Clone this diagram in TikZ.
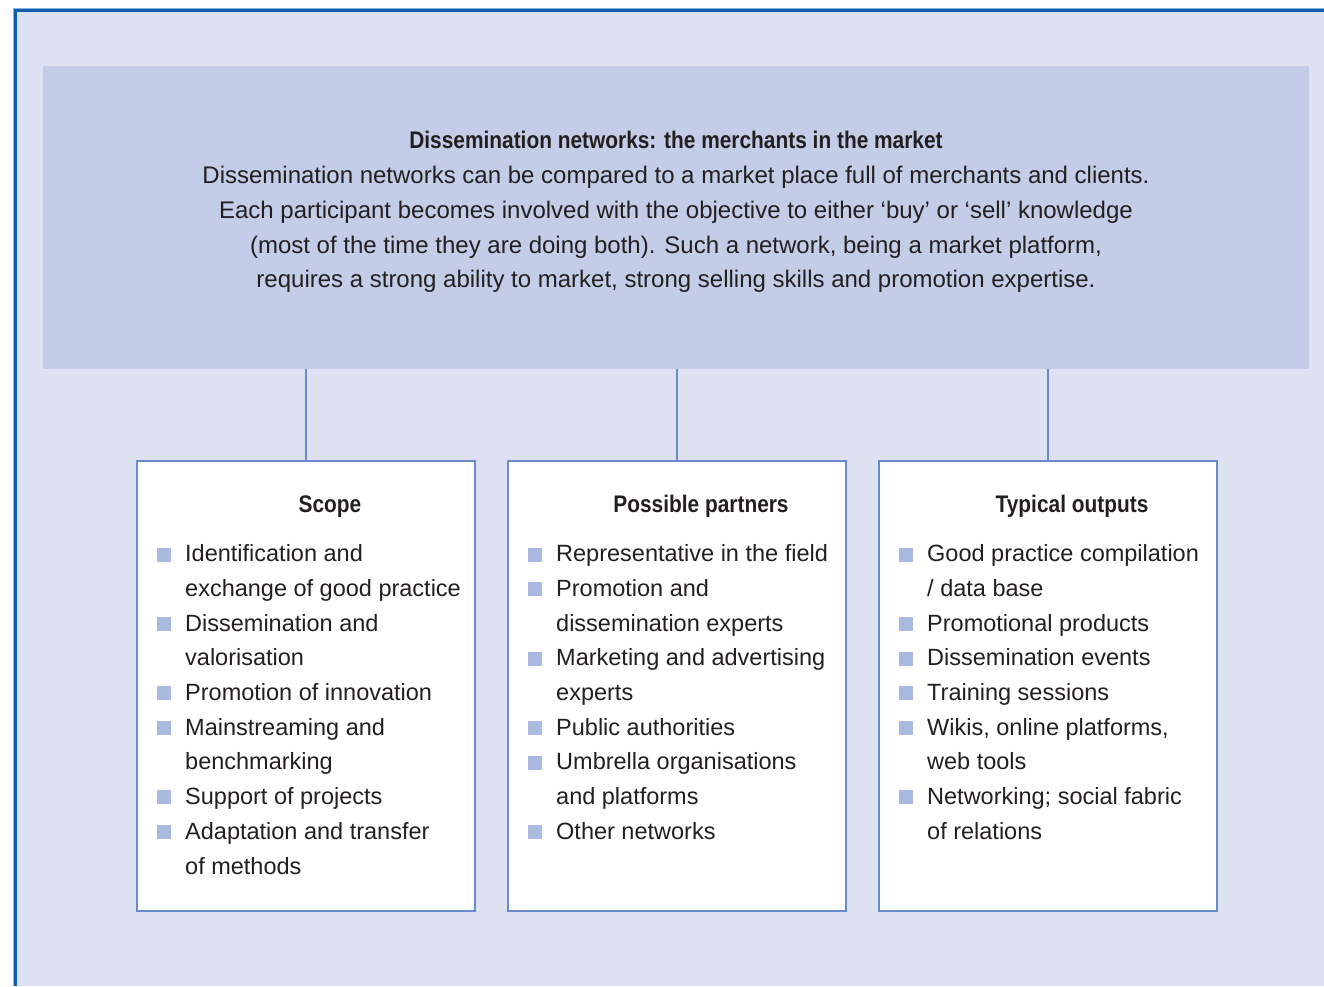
\documentclass[tikz,border=0pt]{standalone}
\usepackage{fontspec}
\setmainfont{Liberation Sans}
\newfontfamily\condb{Liberation Sans}[FakeStretch=0.87]
\definecolor{outerbg}{HTML}{DDE1F1}
\definecolor{hdrbg}{HTML}{C3CDE8}
\definecolor{framec}{HTML}{0F5FB0}
\definecolor{framelt}{HTML}{8CB2DE}
\definecolor{boxc}{HTML}{6A8BCB}
\definecolor{bulc}{HTML}{AAB9E0}
\definecolor{txt}{HTML}{231F20}
\tikzset{
  hdrbox/.style={fill=hdrbg, draw=none, inner sep=0pt, anchor=north west, minimum width=1266pt, minimum height=303pt},
  colbox/.style={fill=white, draw=boxc, line width=2.2pt, inner sep=0pt, anchor=north west, minimum width=338pt, minimum height=450pt},
  conn/.style={draw=boxc, line width=2pt},
  bul/.style={fill=bulc, draw=none, inner sep=0pt, minimum size=14pt, anchor=south west},
  itm/.style={inner sep=0pt, anchor=base west, text=txt, font=\fontsize{23.5}{28}\selectfont},
  hline/.style={inner sep=0pt, anchor=base, text=txt, font=\fontsize{24}{28}\selectfont},
  ttl/.style={inner sep=0pt, anchor=base, text=txt, font=\fontsize{24}{28}\condb\bfseries},
}
\newcommand\bitem[4]{% name, box left, line no, text
  \node[bul] (#1b) at ({#2+21},{561.7+34.7*(#3-1)}) {};
  \node[itm] (#1) at ({#2+49},{561.7+34.7*(#3-1)}) {#4};}
\newcommand\citem[4]{%
  \node[itm] (#1) at ({#2+49},{561.7+34.7*(#3-1)}) {#4};}
\begin{document}
\begin{tikzpicture}[x=1pt,y=-1pt]
\useasboundingbox (0,0) rectangle (1324,986);
\fill[white] (0,0) rectangle (1324,986);
\fill[outerbg] (15,10) rectangle (1324,986);
\draw[framelt, line width=1pt] (13.5,986) -- (13.5,8.5) -- (1324,8.5);
\draw[framec, line width=2.6pt] (15.3,986) -- (15.3,10.3) -- (1324,10.3);
% header
\node[hdrbox] (hdr) at (43,66) {};
\node[ttl] (title) at (676,148) {Dissemination networks: the merchants in the market};
\node[hline] (h1) at (676,183.5) {Dissemination networks can be compared to a market place full of merchants and clients.};
\node[hline] (h2) at (676,218.2) {Each participant becomes involved with the objective to either ‘buy’ or ‘sell’ knowledge};
\node[hline] (h3) at (676,253) {(most of the time they are doing both). Such a network, being a market platform,};
\node[hline] (h4) at (676,287.7) {requires a strong ability to market, strong selling skills and promotion expertise.};
% boxes
\node[colbox] (scope) at (136,460) {};
\node[colbox] (partners) at (507,460) {};
\node[colbox] (outputs) at (878,460) {};
\draw[conn] (hdr.south -| scope.north) -- (scope.north);
\draw[conn] (hdr.south -| partners.north) -- (partners.north);
\draw[conn] (hdr.south -| outputs.north) -- (outputs.north);
% headings
\node[ttl] (scopeh) at (330,512) {Scope};
\node[ttl] (partnersh) at (701,512) {Possible partners};
\node[ttl] (outputsh) at (1072,512) {Typical outputs};
% scope list
\bitem{s1}{136}{1}{Identification and}
\citem{s2}{136}{2}{exchange of good practice}
\bitem{s3}{136}{3}{Dissemination and}
\citem{s4}{136}{4}{valorisation}
\bitem{s5}{136}{5}{Promotion of innovation}
\bitem{s6}{136}{6}{Mainstreaming and}
\citem{s7}{136}{7}{benchmarking}
\bitem{s8}{136}{8}{Support of projects}
\bitem{s9}{136}{9}{Adaptation and transfer}
\citem{s10}{136}{10}{of methods}
% partners list
\bitem{p1}{507}{1}{Representative in the field}
\bitem{p2}{507}{2}{Promotion and}
\citem{p3}{507}{3}{dissemination experts}
\bitem{p4}{507}{4}{Marketing and advertising}
\citem{p5}{507}{5}{experts}
\bitem{p6}{507}{6}{Public authorities}
\bitem{p7}{507}{7}{Umbrella organisations}
\citem{p8}{507}{8}{and platforms}
\bitem{p9}{507}{9}{Other networks}
% outputs list
\bitem{o1}{878}{1}{Good practice compilation}
\citem{o2}{878}{2}{/ data base}
\bitem{o3}{878}{3}{Promotional products}
\bitem{o4}{878}{4}{Dissemination events}
\bitem{o5}{878}{5}{Training sessions}
\bitem{o6}{878}{6}{Wikis, online platforms,}
\citem{o7}{878}{7}{web tools}
\bitem{o8}{878}{8}{Networking; social fabric}
\citem{o9}{878}{9}{of relations}
\end{tikzpicture}
\end{document}
